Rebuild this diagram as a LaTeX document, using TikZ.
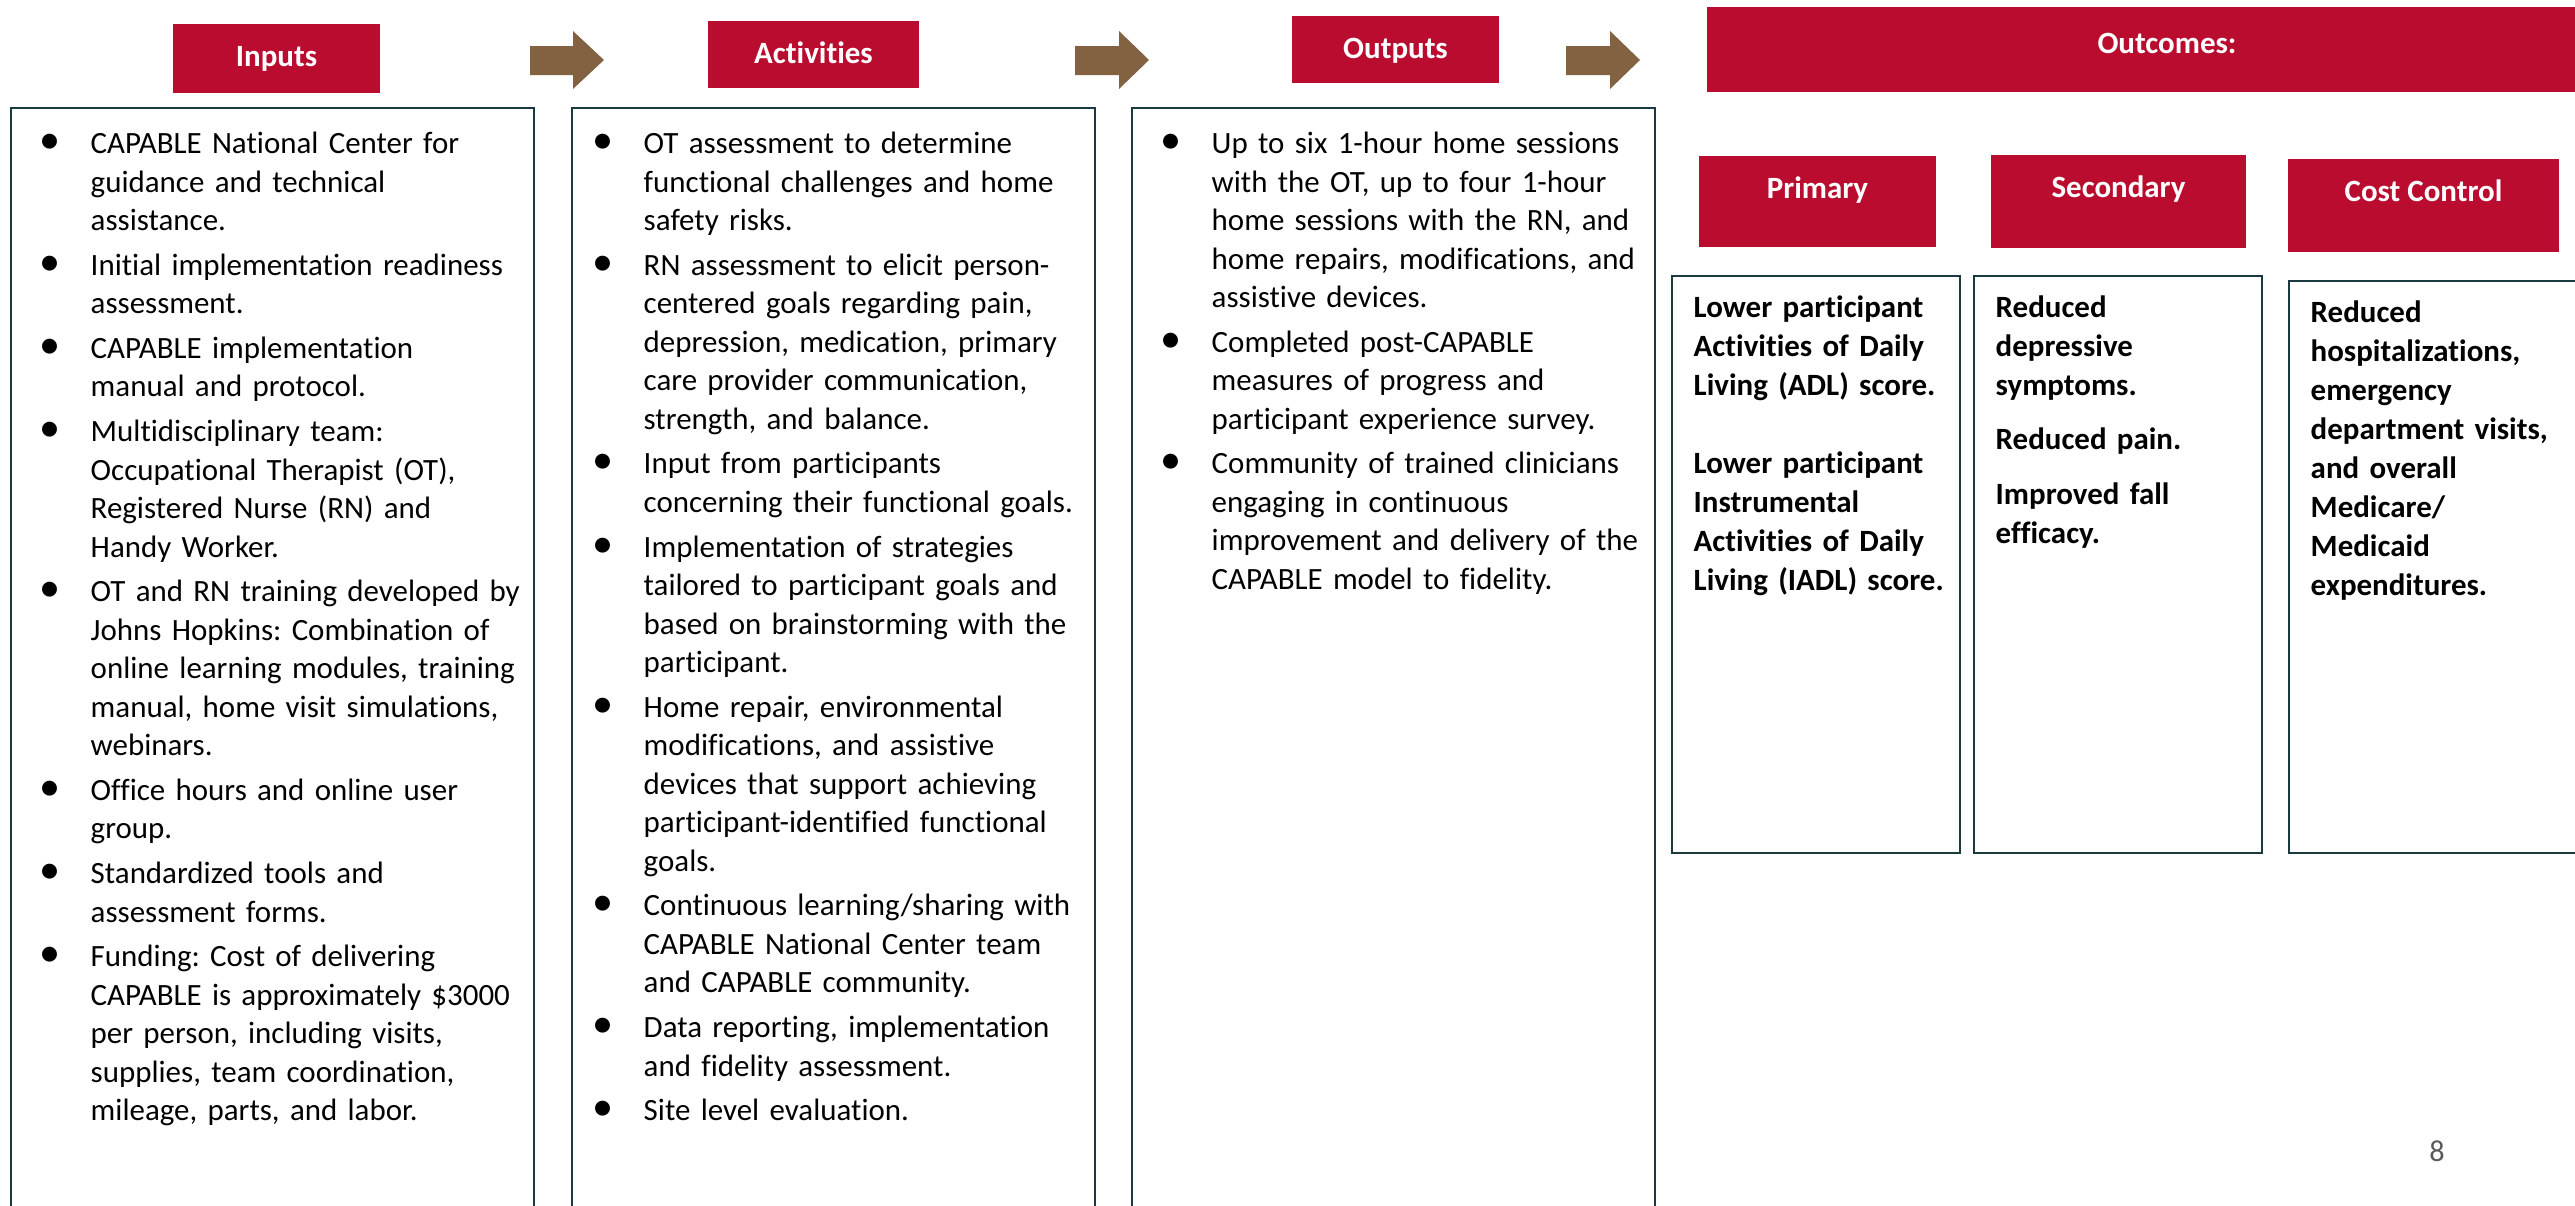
\documentclass[tikz,border=0pt]{standalone}
\usepackage{fontspec}
\setmainfont{Carlito}[Ligatures={NoCommon}]
\usepackage{enumitem}
\usepackage{xcolor}
\definecolor{capred}{HTML}{BA0C2F}
\definecolor{arrowbrown}{HTML}{826240}
\definecolor{boxline}{HTML}{1B3A40}
\definecolor{pagegray}{HTML}{595959}
\frenchspacing

\setlist[itemize]{label=\makebox[0pt]{\fontsize{12}{12}\selectfont\textbullet},
	leftmargin=0.41cm, labelsep=0.41cm, labelwidth=0pt,
	itemsep=1.75pt, parsep=0pt, topsep=0pt, partopsep=0pt}

\tikzset{
	head/.style={fill=capred, text=white, font=\bfseries\fontsize{8.8}{10}\selectfont,
		inner sep=0pt, anchor=base, text height=0.42cm, text depth=#1},
	frame/.style={draw=boxline, line width=0.6pt},
	column/.style={anchor=base west, inner sep=0pt, text width=5.3cm, align=left,
		font=\fontsize{8.8}{10.95}\selectfont},
	outcome/.style={anchor=base west, inner sep=0pt, text width=#1, align=left,
		font=\bfseries\fontsize{8.8}{11.1}\selectfont},
}

\begin{document}
\begin{tikzpicture}[x=0.01cm,y=-0.01cm]
				\useasboundingbox (0,0) rectangle (2575,1206);
				
				\node[head=0.27cm, minimum width=2.07cm] (inputsHd) at (276.5,66) {Inputs};
				\node[head=0.25cm, minimum width=2.11cm] (activitiesHd) at (813.5,63) {Activities};
				\node[head=0.25cm, minimum width=2.07cm] (outputsHd) at (1395.5,58) {Outputs};
				\node[head=0.38cm, minimum width=9.2cm, text height=0.47cm] (outcomesHd) at (2167,54) {Outcomes:};
				\node[head=0.49cm, minimum width=2.37cm] (primaryHd) at (1817.5,198) {Primary};
				\node[head=0.51cm, minimum width=2.55cm] (secondaryHd) at (2118.5,197) {Secondary};
				\node[head=0.51cm, minimum width=2.71cm] (costHd) at (2423.5,201) {Cost Control};
				
				\foreach \x/\b in {530/43,1075/44,1566/44}{
					\fill[arrowbrown] (\x,46) -- (\x+\b,46) -- (\x+\b,31) -- (\x+74,60)
					-- (\x+\b,89) -- (\x+\b,75) -- (\x,75) -- cycle;}
				
				\draw[frame] (11,108) rectangle (534,1260);
				\draw[frame] (572,108) rectangle (1095,1260);
				\draw[frame] (1132,108) rectangle (1655,1260);
				\draw[frame] (1672,276) rectangle (1960,853);
				\draw[frame] (1974,276) rectangle (2262,853);
				\draw[frame] (2289,281) rectangle (2700,853);
				
				\node[column] (inputsTxt) at (49,115) {%
					\begin{itemize}
						\item CAPABLE National Center for\\guidance and technical\\assistance.
						\item Initial implementation readiness\\assessment.
						\item CAPABLE implementation\\manual and protocol.
						\item Multidisciplinary team:\\Occupational Therapist (OT),\\Registered Nurse (RN) and\\Handy Worker.
						\item OT and RN training developed by\\Johns Hopkins: Combination of\\online learning modules, training\\manual, home visit simulations,\\webinars.
						\item Office hours and online user\\group.
						\item Standardized tools and\\assessment forms.
						\item Funding: Cost of delivering\\CAPABLE is approximately \$3000\\per person, including visits,\\supplies, team coordination,\\mileage, parts, and labor.
					\end{itemize}};
				
				\node[column] (activitiesTxt) at (602,115) {%
					\begin{itemize}
						\item OT assessment to determine\\functional challenges and home\\safety risks.
						\item RN assessment to elicit person-\\centered goals regarding pain,\\depression, medication, primary\\care provider communication,\\strength, and balance.
						\item Input from participants\\concerning their functional goals.
						\item Implementation of strategies\\tailored to participant goals and\\based on brainstorming with the\\participant.
						\item Home repair, environmental\\modifications, and assistive\\devices that support achieving\\participant-identified functional\\goals.
						\item Continuous learning/sharing with\\CAPABLE National Center team\\and CAPABLE community.
						\item Data reporting, implementation\\and fidelity assessment.
						\item Site level evaluation.
					\end{itemize}};
				
				\node[column] (outputsTxt) at (1170,115) {%
					\begin{itemize}
						\item Up to six 1-hour home sessions\\with the OT, up to four 1-hour\\home sessions with the RN, and\\home repairs, modifications, and\\assistive devices.
						\item Completed post-CAPABLE\\measures of progress and\\participant experience survey.
						\item Community of trained clinicians\\engaging in continuous\\improvement and delivery of the\\CAPABLE model to fidelity.
					\end{itemize}};
				
				\node[outcome=2.6cm] (primaryTxt) at (1693,317) {Lower participant\\Activities of Daily\\Living (ADL) score.\\[11.1pt]Lower participant\\Instrumental\\Activities of Daily\\Living (IADL) score.};
				\node[outcome=2.6cm] (secondaryTxt) at (1995,317) {Reduced\\depressive\\symptoms.\par\vspace{4.5pt}Reduced pain.\par\vspace{4.5pt}Improved fall\\efficacy.};
				\node[outcome=2.8cm] (costTxt) at (2310,322) {Reduced\\hospitalizations,\\emergency\\department visits,\\and overall\\Medicare/\\Medicaid\\expenditures.};
				
				\node[anchor=base, text=pagegray, font=\fontsize{8.6}{10}\selectfont] (pageNo) at (2437,1161) {8};
			\end{tikzpicture}
\end{document}
